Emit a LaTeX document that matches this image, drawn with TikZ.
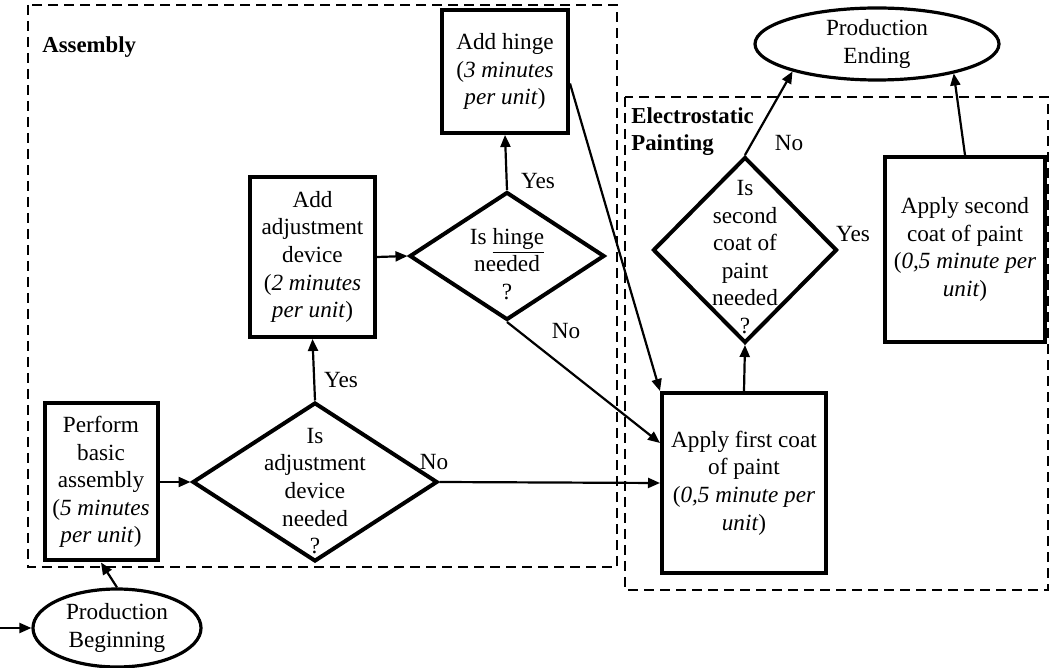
\documentclass[tikz,border=0pt]{standalone}
\usepackage{fontspec}
\setmainfont{Liberation Serif}
\usetikzlibrary{shapes.geometric,arrows.meta}

\begin{document}
\begin{tikzpicture}[x=0.5pt,y=-0.5pt,
  every node/.style={font=\fontsize{11.6}{13.8}\selectfont, align=center},
  box/.style={draw, line width=2pt, inner sep=0pt},
  decision/.style={draw, diamond, line width=2pt, inner sep=0pt},
  terminal/.style={draw, ellipse, line width=1.6pt, inner sep=0pt},
  group/.style={draw, dash pattern=on 5pt off 3pt, line width=1.4pt},
  grouplabel/.style={font=\fontsize{11.4}{13.5}\selectfont\bfseries, align=left, inner sep=0pt, anchor=west},
  flow/.style={line width=1.1pt, -{Triangle[length=6pt,width=5pt]}},
  tag/.style={inner sep=1pt}]
\useasboundingbox (0,0) rectangle (1051,668);

% dashed areas
\draw[group] (28,5) rectangle (617,567);
\draw[group] (625,97) rectangle (1048,590);
\node[grouplabel] (assemblylbl) at (42,47) {Assembly};
\node[grouplabel] (paintinglbl) at (631,131.5) {Electrostatic\\Painting};

% terminals
\node[terminal, minimum width=84pt, minimum height=39pt] (begin) at (117,628) {Production\\Beginning};
\node[terminal, minimum width=122pt, minimum height=36pt] (ending) at (877,44) {Production\\Ending};

% assembly steps
\node[box, minimum width=56.5pt, minimum height=78.5pt] (perform) at (101,482)
  {Perform\\basic\\assembly\\(\textit{5 minutes}\\\textit{per unit})};
\node[decision, minimum width=122.5pt, minimum height=79.5pt] (q1) at (315,482) {};
\node (q1txt) at (315,491) {Is\\adjustment\\device\\needed\\?};
\node[box, minimum width=62.5pt, minimum height=80pt] (adjdev) at (312.5,257)
  {Add\\adjustment\\device\\(\textit{2 minutes}\\\textit{per unit})};
\node[decision, minimum width=97.5pt, minimum height=64pt] (q2) at (507,256) {};
\node (q2txt) at (507,264) {Is \underline{hinge}\\needed\\?};
\node[box, minimum width=63pt, minimum height=61.5pt] (hinge) at (505,71.5)
  {Add hinge\\(\textit{3 minutes}\\\textit{per unit})};

% painting steps
\node[box, minimum width=82pt, minimum height=90pt] (coat1) at (744,483)
  {Apply first coat\\of paint\\(\textit{0,5 minute per}\\\textit{unit})};
\node[decision, minimum width=92pt, minimum height=93pt] (q3) at (745,250) {};
\node (q3txt) at (745,257) {Is\\second\\coat of\\paint\\needed\\?};
\node[box, minimum width=80pt, minimum height=92.5pt] (coat2) at (965,249.5)
  {Apply second\\coat of paint\\(\textit{0,5 minute per}\\\textit{unit})};

% connectors
\coordinate (entry) at (0,628);
\draw[flow] (entry) -- (begin.west);
\draw[flow] (begin.north) -- (perform.south);
\draw[flow] (perform.east) -- (q1.west);
\draw[flow] (q1.north) -- (adjdev.south);
\draw[flow] (adjdev.east) -- (q2.west);
\draw[flow] (q2.north) -- (hinge.south);
\draw[flow] (q2.south) -- ([yshift=20pt]coat1.west);
\draw[flow] ([yshift=-6pt]hinge.east) -- (coat1.north west);
\draw[flow] (q1.east) -- (coat1.west);
\draw[flow] (coat1.north) -- (q3.south);
\draw[flow] (q3.north) -- (ending.198);
\draw[flow] (coat2.north) -- (ending.339);

% branch labels
\node[tag] (yes1) at (341,380) {Yes};
\node[tag] (yes2) at (538,181) {Yes};
\node[tag] (no2) at (566,331) {No};
\node[tag] (no1) at (434,462) {No};
\node[tag] (no3) at (789,143) {No};
\node[tag] (yes3) at (853,234) {Yes};
\end{tikzpicture}
\end{document}
